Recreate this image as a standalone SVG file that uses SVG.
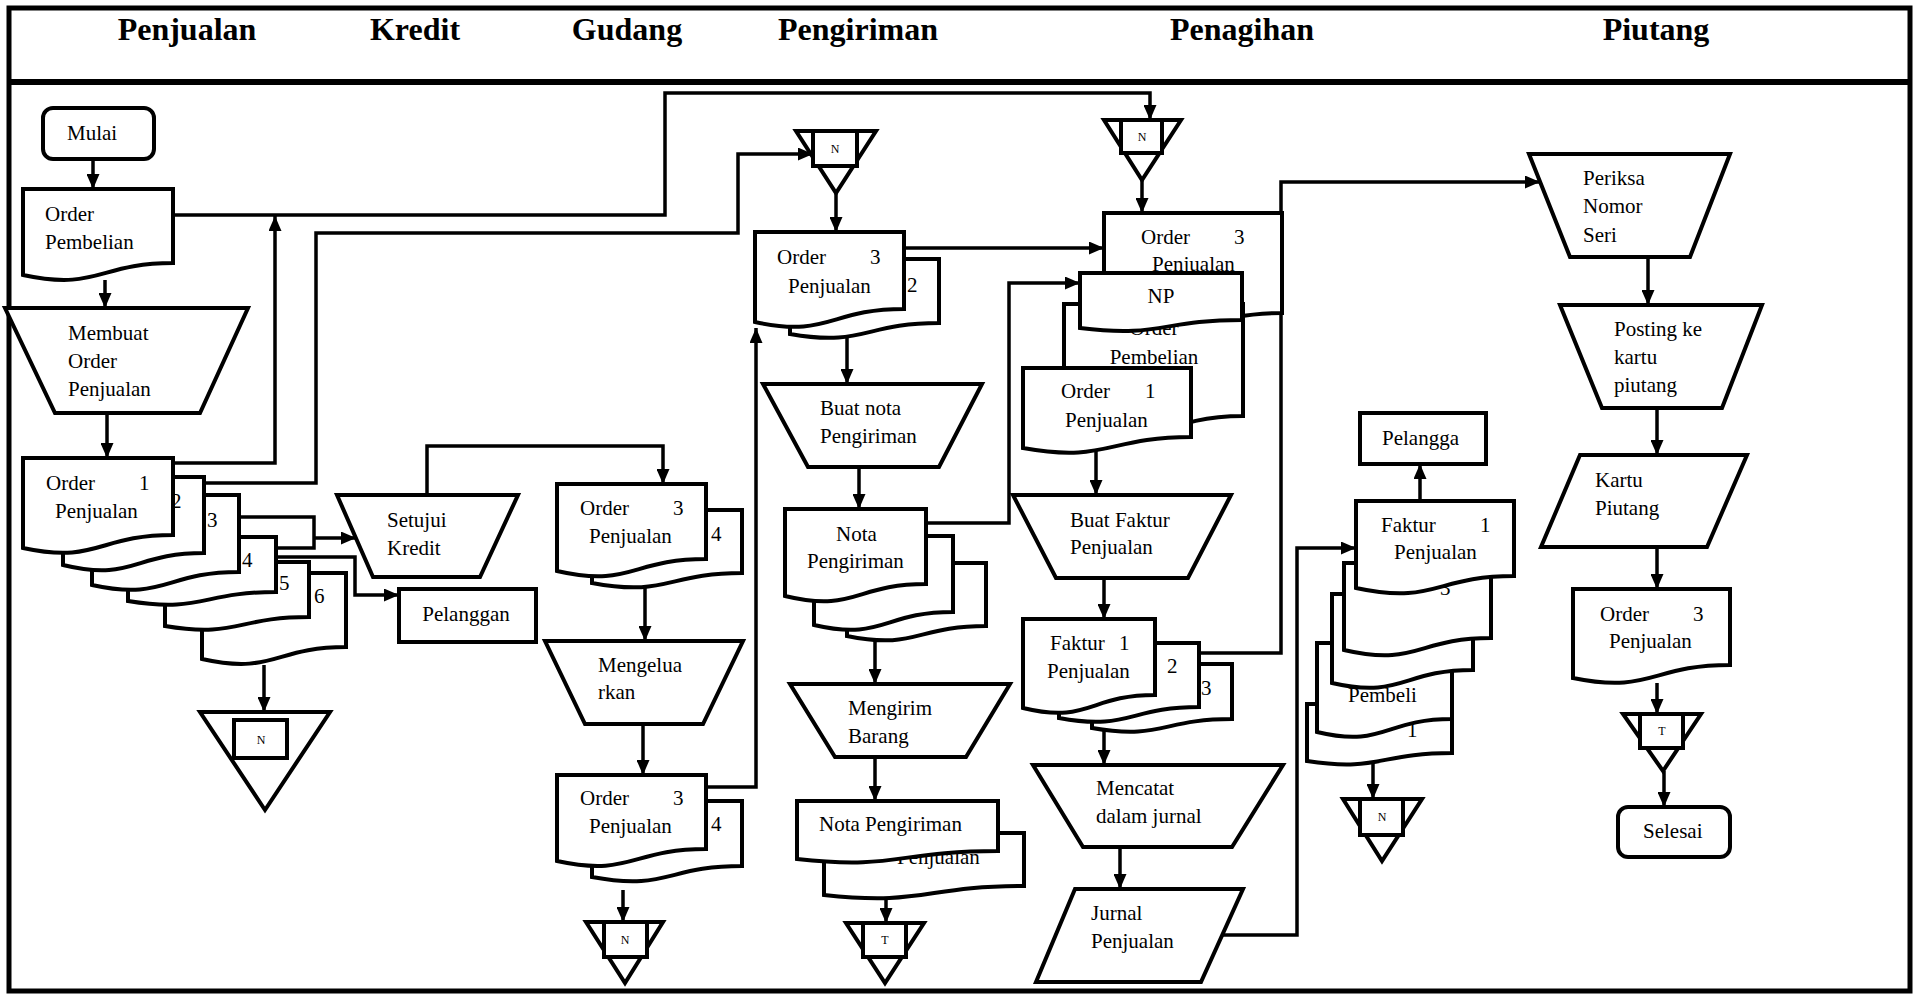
<svg xmlns="http://www.w3.org/2000/svg" width="1919" height="995" viewBox="0 0 1919 995">
  <defs>
    <style>
      .s { fill: #fff; stroke: #000; stroke-width: 4; stroke-linejoin: miter; }
      .c { fill: none; stroke: #000; stroke-width: 3.5; }
      .a { marker-end: url(#ah); }
      .t { font-family: "Liberation Serif", "Times New Roman", serif; font-size: 21px; fill: #000; }
      .m { text-anchor: middle; }
      .sm { font-family: "Liberation Serif", "Times New Roman", serif; font-size: 12px; text-anchor: middle; fill: #000; }
      .h { font-family: "Liberation Serif", "Times New Roman", serif; font-size: 32px; font-weight: bold; text-anchor: middle; fill: #000; }
    </style>
    <marker id="ah" markerUnits="userSpaceOnUse" markerWidth="15" markerHeight="13" viewBox="0 0 15 13" refX="15" refY="6.5" orient="auto">
      <path d="M0,0 L15,6.5 L0,13 Z" fill="#000"/>
    </marker>
  </defs>

  <rect width="1919" height="995" fill="#fff"/>

  <!-- swimlane frame and headings -->
  <g id="frame">
    <rect x="9" y="8" width="1901" height="983" fill="none" stroke="#000" stroke-width="5"/>
    <line x1="9" y1="82" x2="1910" y2="82" stroke="#000" stroke-width="6"/>
    <text class="h" x="187" y="40">Penjualan</text>
    <text class="h" x="415" y="40">Kredit</text>
    <text class="h" x="627" y="40">Gudang</text>
    <text class="h" x="858" y="40">Pengiriman</text>
    <text class="h" x="1242" y="40">Penagihan</text>
    <text class="h" x="1656" y="40">Piutang</text>
  </g>

  <!-- flow lines -->
  <g id="connectors">
    <path class="c a" d="M93 159 V189"/>
    <path class="c a" d="M105 280 V308"/>
    <path class="c a" d="M107 413 V458"/>
    <path class="c a" d="M173 215 H665 V93 H1150 V120"/>
    <path class="c a" d="M173 463 H275 V216"/>
    <path class="c a" d="M204 483 H316 V233 H738 V154 H813"/>
    <path class="c" d="M239 517 H314 V548 H276"/>
    <path class="c a" d="M314 538 H356"/>
    <path class="c a" d="M276 557 H355 V595 H399"/>
    <path class="c a" d="M264 665 V712"/>
    <path class="c a" d="M427 495 V446 H663 V484"/>
    <path class="c a" d="M645 583 V641"/>
    <path class="c a" d="M643 724 V775"/>
    <path class="c a" d="M706 787 H756 V328"/>
    <path class="c a" d="M623 890 V922"/>
    <path class="c a" d="M836 193 V232"/>
    <path class="c a" d="M904 248 H1104"/>
    <path class="c a" d="M847 335 V384"/>
    <path class="c a" d="M859 467 V509"/>
    <path class="c a" d="M926 523 H1009 V283 H1080"/>
    <path class="c a" d="M875 640 V684"/>
    <path class="c a" d="M875 757 V801"/>
    <path class="c a" d="M886 895 V923"/>
    <path class="c a" d="M1142 180 V213"/>
    <path class="c a" d="M1096 450 V495"/>
    <path class="c a" d="M1104 578 V619"/>
    <path class="c a" d="M1199 653 H1281 V182 H1540"/>
    <path class="c a" d="M1104 730 V765"/>
    <path class="c a" d="M1120 847 V889"/>
    <path class="c a" d="M1222 935 H1297 V548 H1356"/>
    <path class="c a" d="M1420 501 V464"/>
    <path class="c a" d="M1373 763 V799"/>
    <path class="c a" d="M1648 257 V305"/>
    <path class="c a" d="M1657 408 V455"/>
    <path class="c a" d="M1657 547 V589"/>
    <path class="c a" d="M1657 683 V714"/>
    <path class="c a" d="M1664 771 V807"/>
  </g>

  <!-- Penjualan -->
  <g id="mulai">
    <rect class="s" x="43" y="108" width="111" height="51" rx="10"/>
    <text class="t" x="67" y="140">Mulai</text>
  </g>
  <g id="order-pembelian">
    <path class="s" d="M23 189 H173 V263 C98 263 98 291 23 275 Z"/>
    <text class="t" x="45" y="221">Order</text>
    <text class="t" x="45" y="249">Pembelian</text>
  </g>
  <g id="membuat-order">
    <polygon class="s" points="5,308 248,308 200,413 55,413"/>
    <text class="t" x="68" y="340">Membuat</text>
    <text class="t" x="68" y="368">Order</text>
    <text class="t" x="68" y="396">Penjualan</text>
  </g>
  <g id="order-penjualan-6rangkap">
    <path class="s" d="M202 573 H346 V647 C274 647 274 675 202 659 Z"/>
    <text class="t" x="314" y="603">6</text>
    <path class="s" d="M165 562 H309 V617 C237 617 237 638 165 626 Z"/>
    <text class="t" x="279" y="590">5</text>
    <path class="s" d="M128 537 H276 V592 C202 592 202 613 128 601 Z"/>
    <text class="t" x="242" y="567">4</text>
    <path class="s" d="M92 495 H239 V572 C165 572 165 601 92 585 Z"/>
    <text class="t" x="207" y="527">3</text>
    <path class="s" d="M63 477 H204 V553 C133 553 133 582 63 565 Z"/>
    <text class="t" x="171" y="508">2</text>
    <path class="s" d="M23 458 H173 V535 C98 535 98 564 23 548 Z"/>
    <text class="t" x="46" y="490">Order</text>
    <text class="t" x="139" y="490">1</text>
    <text class="t" x="55" y="518">Penjualan</text>
  </g>
  <g id="off-page-n1">
    <polygon class="s" points="200,712 330,712 265,810"/>
    <rect class="s" x="234" y="720" width="53" height="38"/>
    <text class="sm" x="261" y="744">N</text>
  </g>

  <!-- Kredit -->
  <g id="setujui-kredit">
    <polygon class="s" points="337,495 518,495 480,577 373,577"/>
    <text class="t" x="387" y="527">Setujui</text>
    <text class="t" x="387" y="555">Kredit</text>
  </g>
  <g id="pelanggan">
    <rect class="s" x="399" y="589" width="137" height="53"/>
    <text class="t m" x="466" y="621">Pelanggan</text>
  </g>

  <!-- Gudang -->
  <g id="order-penjualan-gudang-1">
    <path class="s" d="M592 510 H742 V573 C667 573 667 597 592 583 Z"/>
    <text class="t" x="711" y="541">4</text>
    <path class="s" d="M557 484 H706 V559 C631 559 631 588 557 571 Z"/>
    <text class="t" x="580" y="515">Order</text>
    <text class="t" x="673" y="515">3</text>
    <text class="t" x="589" y="543">Penjualan</text>
  </g>
  <g id="mengeluarkan">
    <polygon class="s" points="545,641 743,641 703,724 585,724"/>
    <text class="t" x="598" y="672">Mengelua</text>
    <text class="t" x="598" y="699">rkan</text>
  </g>
  <g id="order-penjualan-gudang-2">
    <path class="s" d="M592 801 H742 V866 C667 866 667 891 592 877 Z"/>
    <text class="t" x="711" y="831">4</text>
    <path class="s" d="M557 775 H706 V849 C631 849 631 877 557 861 Z"/>
    <text class="t" x="580" y="805">Order</text>
    <text class="t" x="673" y="805">3</text>
    <text class="t" x="589" y="833">Penjualan</text>
  </g>
  <g id="off-page-n2">
    <polygon class="s" points="586,922 663,922 625,983"/>
    <rect class="s" x="604" y="922" width="43" height="35"/>
    <text class="sm" x="625" y="944">N</text>
  </g>

  <!-- Pengiriman -->
  <g id="off-page-n3">
    <polygon class="s" points="796,131 876,131 836,193"/>
    <rect class="s" x="813" y="131" width="44" height="35"/>
    <text class="sm" x="835" y="153">N</text>
  </g>
  <g id="order-penjualan-pengiriman">
    <path class="s" d="M790 259 H939 V323 C864 323 864 347 790 334 Z"/>
    <text class="t" x="907" y="292">2</text>
    <path class="s" d="M755 232 H904 V309 C829 309 829 338 755 322 Z"/>
    <text class="t" x="777" y="264">Order</text>
    <text class="t" x="870" y="264">3</text>
    <text class="t" x="788" y="293">Penjualan</text>
  </g>
  <g id="buat-nota">
    <polygon class="s" points="763,384 982,384 939,467 808,467"/>
    <text class="t" x="820" y="415">Buat nota</text>
    <text class="t" x="820" y="443">Pengiriman</text>
  </g>
  <g id="nota-pengiriman-3rangkap">
    <path class="s" d="M847 563 H986 V626 C916 626 916 650 847 636 Z"/>
    <path class="s" d="M814 536 H953 V612 C883 612 883 641 814 625 Z"/>
    <path class="s" d="M785 509 H926 V584 C855 584 855 613 785 596 Z"/>
    <text class="t" x="836" y="541">Nota</text>
    <text class="t" x="807" y="568">Pengiriman</text>
  </g>
  <g id="mengirim-barang">
    <polygon class="s" points="790,684 1010,684 966,757 835,757"/>
    <text class="t" x="848" y="715">Mengirim</text>
    <text class="t" x="848" y="743">Barang</text>
  </g>
  <g id="nota-pengiriman-arsip">
    <path class="s" d="M824 833 H1024 V886 C924 886 924 906 824 895 Z"/>
    <text class="t" x="897" y="864">Penjualan</text>
    <path class="s" d="M797 801 H998 V851 C897 851 897 870 797 859 Z"/>
    <text class="t" x="819" y="831">Nota Pengiriman</text>
  </g>
  <g id="off-page-t1">
    <polygon class="s" points="846,923 924,923 885,983"/>
    <rect class="s" x="863" y="923" width="43" height="34"/>
    <text class="sm" x="885" y="944">T</text>
  </g>

  <!-- Penagihan -->
  <g id="off-page-n4">
    <polygon class="s" points="1104,120 1181,120 1142,180"/>
    <rect class="s" x="1121" y="120" width="41" height="33"/>
    <text class="sm" x="1142" y="141">N</text>
  </g>
  <g id="dokumen-penagihan">
    <path class="s" d="M1104 213 H1282 V313 C1193 313 1193 351 1104 329 Z"/>
    <text class="t" x="1141" y="244">Order</text>
    <text class="t" x="1234" y="244">3</text>
    <text class="t" x="1152" y="271">Penjualan</text>
    <path class="s" d="M1064 304 H1243 V416 C1153 416 1153 459 1064 434 Z"/>
    <text class="t m" x="1154" y="335">Order</text>
    <text class="t m" x="1154" y="364">Pembelian</text>
    <path class="s" d="M1080 273 H1242 V320 C1161 320 1161 338 1080 328 Z"/>
    <text class="t m" x="1161" y="303">NP</text>
    <path class="s" d="M1023 368 H1191 V437 C1107 437 1107 463 1023 448 Z"/>
    <text class="t" x="1061" y="398">Order</text>
    <text class="t" x="1145" y="398">1</text>
    <text class="t" x="1065" y="427">Penjualan</text>
  </g>
  <g id="buat-faktur">
    <polygon class="s" points="1013,495 1231,495 1188,578 1056,578"/>
    <text class="t" x="1070" y="527">Buat Faktur</text>
    <text class="t" x="1070" y="554">Penjualan</text>
  </g>
  <g id="faktur-penjualan-3rangkap">
    <path class="s" d="M1092 664 H1232 V719 C1162 719 1162 740 1092 728 Z"/>
    <text class="t" x="1201" y="695">3</text>
    <path class="s" d="M1059 643 H1199 V707 C1129 707 1129 731 1059 718 Z"/>
    <text class="t" x="1167" y="673">2</text>
    <path class="s" d="M1023 619 H1155 V695 C1089 695 1089 724 1023 708 Z"/>
    <text class="t" x="1050" y="650">Faktur</text>
    <text class="t" x="1119" y="650">1</text>
    <text class="t" x="1047" y="678">Penjualan</text>
  </g>
  <g id="mencatat-jurnal">
    <polygon class="s" points="1033,765 1283,765 1232,847 1083,847"/>
    <text class="t" x="1096" y="795">Mencatat</text>
    <text class="t" x="1096" y="823">dalam jurnal</text>
  </g>
  <g id="jurnal-penjualan">
    <polygon class="s" points="1075,889 1243,889 1201,982 1036,982"/>
    <text class="t" x="1091" y="920">Jurnal</text>
    <text class="t" x="1091" y="948">Penjualan</text>
  </g>
  <g id="pelangga">
    <rect class="s" x="1360" y="413" width="126" height="51"/>
    <text class="t" x="1382" y="445">Pelangga</text>
  </g>
  <g id="faktur-penjualan-arsip">
    <path class="s" d="M1307 704 H1452 V753 C1379 753 1379 772 1307 761 Z"/>
    <text class="t" x="1407" y="737">1</text>
    <path class="s" d="M1317 643 H1452 V719 C1384 719 1384 748 1317 732 Z"/>
    <text class="t" x="1348" y="702">Pembeli</text>
    <path class="s" d="M1332 594 H1473 V670 C1402 670 1402 699 1332 683 Z"/>
    <path class="s" d="M1344 563 H1491 V638 C1417 638 1417 667 1344 650 Z"/>
    <text class="t" x="1440" y="595">3</text>
    <path class="s" d="M1356 501 H1514 V576 C1435 576 1435 605 1356 588 Z"/>
    <text class="t" x="1381" y="532">Faktur</text>
    <text class="t" x="1480" y="532">1</text>
    <text class="t" x="1394" y="559">Penjualan</text>
  </g>
  <g id="off-page-n5">
    <polygon class="s" points="1343,799 1422,799 1382,861"/>
    <rect class="s" x="1360" y="799" width="43" height="36"/>
    <text class="sm" x="1382" y="821">N</text>
  </g>

  <!-- Piutang -->
  <g id="periksa-nomor-seri">
    <polygon class="s" points="1529,154 1730,154 1690,257 1570,257"/>
    <text class="t" x="1583" y="185">Periksa</text>
    <text class="t" x="1583" y="213">Nomor</text>
    <text class="t" x="1583" y="242">Seri</text>
  </g>
  <g id="posting-kartu-piutang">
    <polygon class="s" points="1560,305 1762,305 1722,408 1602,408"/>
    <text class="t" x="1614" y="336">Posting ke</text>
    <text class="t" x="1614" y="364">kartu</text>
    <text class="t" x="1614" y="392">piutang</text>
  </g>
  <g id="kartu-piutang">
    <polygon class="s" points="1580,455 1747,455 1707,547 1541,547"/>
    <text class="t" x="1595" y="487">Kartu</text>
    <text class="t" x="1595" y="515">Piutang</text>
  </g>
  <g id="order-penjualan-piutang">
    <path class="s" d="M1573 589 H1730 V665 C1651 665 1651 694 1573 678 Z"/>
    <text class="t" x="1600" y="621">Order</text>
    <text class="t" x="1693" y="621">3</text>
    <text class="t" x="1609" y="648">Penjualan</text>
  </g>
  <g id="off-page-t2">
    <polygon class="s" points="1623,714 1701,714 1663,771"/>
    <rect class="s" x="1640" y="714" width="43" height="34"/>
    <text class="sm" x="1662" y="735">T</text>
  </g>
  <g id="selesai">
    <rect class="s" x="1618" y="807" width="112" height="50" rx="10"/>
    <text class="t" x="1643" y="838">Selesai</text>
  </g>
</svg>
